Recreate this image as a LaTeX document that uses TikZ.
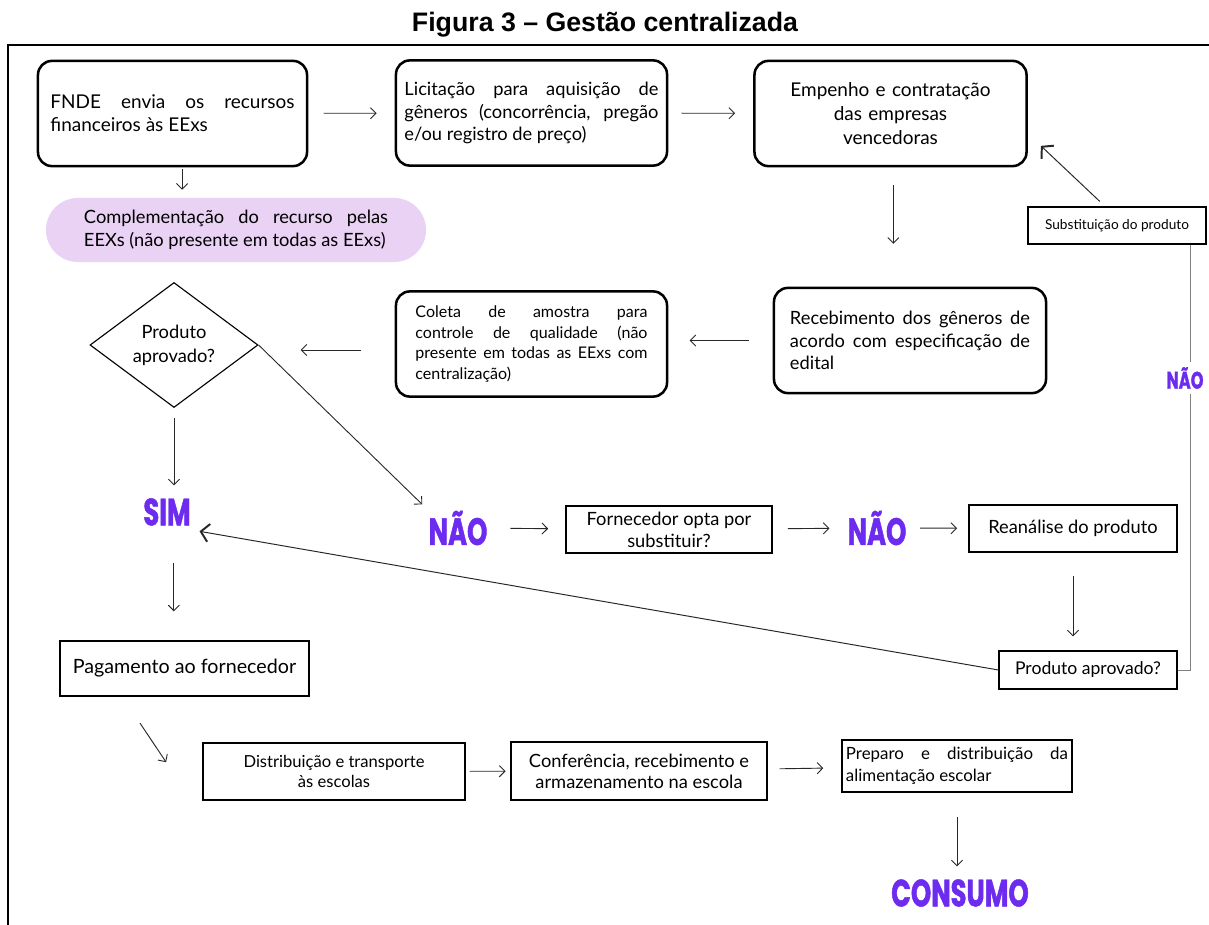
\documentclass[tikz,border=0pt]{standalone}
\usepackage{fontspec}
\setmainfont{Lato}
\newfontfamily\titlefont{Liberation Sans}
\newfontfamily\heavyfont{Poppins}[FakeStretch=0.68,BoldFeatures={FakeBold=1.2}]
\usetikzlibrary{arrows.meta,positioning,shapes.geometric}
\definecolor{gcpurple}{RGB}{108,43,238}
\definecolor{gcpink}{RGB}{233,210,244}
\definecolor{gcline}{RGB}{40,40,40}
\newcommand{\gcsize}[2]{\fontsize{#1}{#2}\selectfont}

\begin{document}
\begin{tikzpicture}[
  x=0.025cm, y=-0.025cm,
  every node/.style={font=\gcsize{13}{15.8}},
  stage/.style={draw,line width=1.8pt,rounded corners=0.35cm,minimum height=2.63cm,inner xsep=0.3cm},
  plain/.style={draw,line width=0.9pt,inner sep=0.1cm},
  note/.style={fill=gcpink,rounded corners=0.8cm,minimum width=9.5cm,minimum height=1.6cm},
  decision/.style={diamond,draw,line width=0.8pt,aspect=1.344,minimum width=4.2cm,minimum height=3.125cm,inner sep=0pt,align=center},
  answer/.style={text=gcpurple,font=\heavyfont\bfseries\gcsize{27}{27}},
  flow/.style={-{Straight Barb[length=1.4mm,width=2.8mm]},gcline,line width=0.65pt},
  bigflow/.style={-{Straight Barb[length=2mm,width=4.5mm,line width=1.4pt]},gcline,line width=0.7pt}
]
\useasboundingbox (0,0) rectangle (1209,925);

% title and frame
\node[font=\titlefont\bfseries\gcsize{19}{22}] (title) at (605,25) {Figura 3 – Gestão centralizada};
\draw[line width=1.4pt] (8,925) -- (8,45) -- (1209,45);

% first row
\node[stage,minimum width=6.725cm,text width=6.1cm,align=justify,font=\gcsize{13.5}{16.3}] (fnde) at (172.5,113.5) {FNDE envia os recursos\linebreak financeiros às EExs};
\node[stage,minimum width=6.775cm,text width=6.35cm,inner xsep=0.21cm,align=justify] (lic) at (531.5,113) {Licitação para aquisição de\linebreak gêneros (concorrência, pregão\linebreak e/ou registro de preço)};
\node[stage,minimum width=6.775cm,text width=6.2cm,align=center,font=\gcsize{13.5}{17}] (emp) at (890.5,113.5) {Empenho e contratação\\das empresas\\vencedoras};
\node[note,text width=7.6cm,align=justify,font=\gcsize{13}{16.3}] (comp) at (236,230) {Complementação do recurso pelas\linebreak EEXs (não presente em todas as EExs)};

% second row
\node[stage,minimum width=6.8cm,text width=6.0cm,inner xsep=0.4cm,align=justify] (rec) at (910,340.5) {Recebimento dos gêneros de\linebreak acordo com especificação de\linebreak edital};
\node[stage,minimum width=6.775cm,text width=5.8cm,inner xsep=0.48cm,align=justify,font=\gcsize{11.4}{14.5}] (col) at (531.5,344) {Coleta de amostra para\linebreak controle de qualidade (não\linebreak presente em todas as EExs com\linebreak centralização)};
\node[decision,font=\gcsize{13}{17}] (dia) at (174,345) {Produto\\aprovado?};
\node[plain,minimum width=4.45cm,minimum height=0.925cm,font=\gcsize{9.7}{11}] (subst) at (1117,225.5) {Substituição do produto};
\node[answer,font=\heavyfont\bfseries\gcsize{17}{17}] (naoR) at (1185,378) {NÃO};

% answers
\node[answer] (sim) at (167,512) {SIM};
\node[answer] (nao1) at (458,528) {NÃO};
\node[plain,minimum width=5.15cm,minimum height=1.175cm,align=center,font=\gcsize{13}{15.6}] (forn) at (669,529.5) {Fornecedor opta por\\substituir?};
\node[answer] (nao2) at (877,528) {NÃO};
\node[plain,minimum width=5.2cm,minimum height=1.175cm,font=\gcsize{13}{15}] (rean) at (1073,528.5) {Reanálise do produto};
\node[plain,minimum width=4.45cm,minimum height=0.95cm,font=\gcsize{12.5}{15}] (prodok) at (1088,670) {Produto aprovado?};

% last rows
\node[plain,line width=1.2pt,minimum width=6.225cm,minimum height=1.375cm,font=\gcsize{14}{17}] (pag) at (184.5,668.5) {Pagamento ao fornecedor};
\node[plain,minimum width=6.55cm,minimum height=1.425cm,align=center,font=\gcsize{11.8}{14.5}] (dist) at (334,771.5) {Distribuição e transporte\\às escolas};
\node[plain,minimum width=6.4cm,minimum height=1.45cm,align=center,font=\gcsize{13}{15}] (conf) at (639,771) {Conferência, recebimento e\\armazenamento na escola};
\node[plain,minimum width=5.75cm,minimum height=1.3cm,text width=5.55cm,inner xsep=0.05cm,align=justify,font=\gcsize{12}{15.6}] (prep) at (957,766) {Preparo e distribuição da\linebreak alimentação escolar};
\node[answer] (cons) at (960,893) {CONSUMO};

% connectors
\draw[flow,shorten <=0.38cm,shorten >=0.45cm] (fnde) -- (lic);
\draw[flow,shorten <=0.33cm,shorten >=0.45cm] (lic) -- (emp);
\draw[flow,shorten <=0.05cm,shorten >=0.2cm] ([xshift=0.24cm]fnde.south) -- ([xshift=0.24cm]fnde.south |- comp.north);
\draw[flow,shorten <=0.43cm,shorten >=1.07cm] ([xshift=0.07cm]emp.south) -- ([xshift=0.07cm]emp.south |- rec.north);
\draw[flow,shorten <=0.6cm,shorten >=0.53cm] (rec.west) -- (rec.west -| col.east);
\draw[flow,shorten <=0.85cm,shorten >=1.05cm] ([yshift=-0.15cm]col.west) -- ([yshift=-0.15cm]col.west -| dia.east);
\draw[flow,shorten >=0.05cm] (dia.east) -- (nao1.north west);
\draw[flow,shorten <=0.25cm,shorten >=0.2cm] (dia.south) -- (dia.south |- sim.north);
\draw[flow,shorten <=0.8cm,shorten >=0.72cm] ([xshift=0.17cm]sim.south) -- ([xshift=0.17cm]sim.south |- pag.north);
\draw[flow,shorten <=0.79cm,shorten >=0.28cm] ([xshift=-1.55cm]pag.south) -- ([xshift=-0.75cm]dist.west);
\draw[flow,shorten <=0.1cm,shorten >=0.12cm] (dist) -- (conf);
\draw[flow,shorten <=0.3cm,shorten >=0.45cm] (conf) -- (prep);
\draw[flow,shorten <=0.6cm,shorten >=0.2cm] (prep.south) -- (prep.south |- cons.north);
\draw[flow,shorten <=0.45cm,shorten >=0.43cm] (nao1) -- (forn);
\draw[flow,shorten <=0.38cm,shorten >=0.33cm] (forn) -- (nao2);
\draw[flow,shorten <=0.22cm,shorten >=0.28cm] (nao2) -- (rean);
\draw[flow,shorten <=0.58cm,shorten >=0.35cm] (rean.south) -- (rean.south |- prodok.north);
\draw[bigflow,shorten >=0.1cm] (prodok.west) -- (sim.south east);
\draw[bigflow,shorten <=0.18cm,shorten >=0.45cm] ([xshift=-0.3cm]subst.north) -- ([yshift=-0.5cm]emp.east);
\coordinate (turn) at (1190,670);
\draw[gray,line width=0.6pt] (prodok.east) -- (turn) -- (turn |- naoR.south);
\draw[gray,line width=0.6pt] (turn |- naoR.north) -- (turn |- subst.south);
\end{tikzpicture}
\end{document}
